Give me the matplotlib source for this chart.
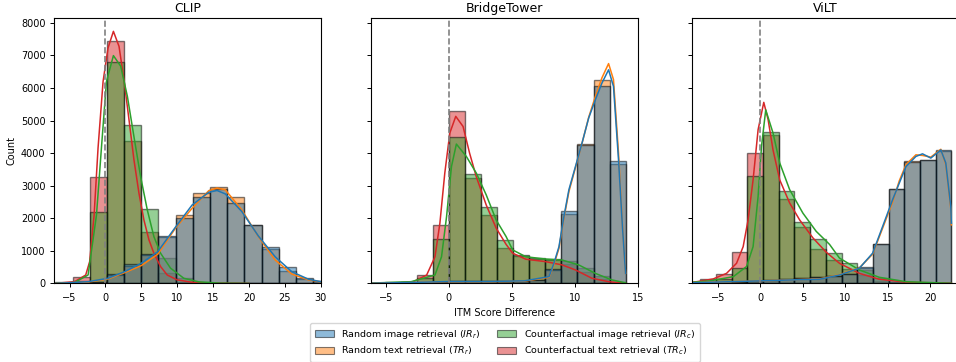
import numpy as np
import matplotlib
matplotlib.use("Agg")
import matplotlib.pyplot as plt
from matplotlib.patches import Patch

# ---- data ----
series_labels = ["Random image retrieval ($IR_r$)", "Random text retrieval ($TR_r$)",
                 "Counterfactual image retrieval ($IR_c$)", "Counterfactual text retrieval ($TR_c$)"]
series_colors = ["#1f77b4", "#ff7f0e", "#2ca02c", "#d62728"]
panel_titles = ["CLIP", "BridgeTower", "ViLT"]

# CLIP histogram (common bin edges for all four series)
clip_edges = [0.2 + 2.395 * k for k in range(-3, 14)]
clip_ir_r = [5, 25, 60, 280, 590, 905, 1470, 2025, 2660, 2900, 2475, 1810, 1130, 505, 165, 75]
clip_tr_r = [5, 20, 50, 250, 550, 870, 1440, 2105, 2775, 2950, 2640, 1810, 1050, 395, 150, 70]
clip_ir_c = [30, 90, 2190, 6790, 4850, 2280, 775, 170, 60, 20, 5, 0, 0, 0, 0, 0]
clip_tr_c = [40, 200, 3265, 7435, 4360, 1590, 330, 40, 10, 0, 0, 0, 0, 0, 0, 0]

# CLIP density curves (count scale)
clip_kde_x_r = [-7.0, -5.65, -2.4, 0.36, 2.64, 5.0, 7.3, 9.76, 12.08, 14.4, 15.55, 16.7, 19.0, 21.3, 23.65, 25.97, 28.3, 30.0, 31.3]
clip_kde_ir_r = [5, 15, 55, 160, 360, 620, 980, 1730, 2410, 2800, 2855, 2750, 2210, 1460, 820, 360, 130, 55, 30]
clip_kde_tr_r = [5, 12, 45, 140, 330, 550, 900, 1700, 2310, 2850, 2930, 2875, 2260, 1440, 720, 290, 110, 50, 25]
clip_kde_x_ir_c = [-7.0, -4.3, -2.42, -1.25, -0.56, 0.14, 1.11, 2.13, 3.06, 3.97, 4.9, 5.83, 6.75, 7.68, 9.07, 10.92, 13.0, 16.0, 20.0]
clip_kde_ir_c = [5, 30, 260, 2100, 4160, 6200, 6995, 6670, 5740, 4510, 3280, 2260, 1440, 930, 470, 160, 50, 10, 0]
clip_kde_x_tr_c = [-7.0, -4.3, -2.75, -2.2, -1.58, -1.03, -0.33, 0.36, 1.11, 1.89, 2.58, 3.28, 3.97, 4.67, 5.36, 6.06, 6.75, 7.68, 8.61, 10.0, 12.0, 15.0, 20.0]
clip_kde_tr_c = [5, 55, 260, 670, 2100, 4160, 6200, 7230, 7740, 7280, 6260, 5030, 3800, 2770, 1950, 1340, 930, 520, 260, 110, 40, 10, 0]

# BridgeTower histogram
bt_edges = [0.02 + 1.275 * k for k in range(-5, 12)]
bt_ir_r = [5, 10, 15, 25, 45, 70, 80, 75, 70, 80, 110, 450, 2240, 4260, 6070, 3765]
bt_tr_r = [5, 10, 15, 25, 40, 65, 75, 70, 65, 75, 100, 420, 2140, 4280, 6240, 3665]
bt_ir_c = [15, 30, 50, 160, 1360, 4495, 3370, 2360, 1340, 860, 790, 760, 690, 470, 240, 60]
bt_tr_c = [20, 35, 60, 255, 1780, 5305, 3235, 2105, 1080, 840, 760, 720, 600, 350, 150, 20]

bt_kde_x_r = [-6.35, -2.0, 0.0, 3.0, 6.0, 7.96, 8.35, 8.75, 9.14, 9.54, 10.06, 10.58, 11.11, 11.64, 12.16, 12.69, 13.08, 13.48, 13.79, 14.04]
bt_kde_ir_r = [5, 40, 60, 60, 80, 210, 620, 1130, 2050, 2880, 3590, 4310, 5080, 5640, 6150, 6560, 6050, 3800, 1750, 310]
bt_kde_tr_r = [5, 35, 55, 55, 70, 190, 580, 1080, 2000, 2820, 3560, 4300, 5100, 5740, 6310, 6750, 6260, 4000, 1800, 310]
bt_kde_x_ir_c = [-6.35, -3.0, -1.1, -0.58, -0.18, 0.21, 0.6, 1.39, 2.18, 2.97, 3.76, 4.55, 5.07, 6.12, 7.7, 9.0, 10.32, 11.64, 12.95, 14.04]
bt_kde_ir_c = [10, 55, 260, 820, 2050, 3590, 4280, 3900, 3390, 2720, 1950, 1440, 1030, 820, 750, 720, 570, 310, 110, 20]
bt_kde_x_tr_c = [-6.35, -4.0, -2.81, -1.76, -1.1, -0.71, -0.32, 0.08, 0.55, 1.13, 1.65, 2.18, 2.97, 3.76, 4.55, 5.07, 6.12, 7.7, 9.0, 10.06, 11.37, 12.69, 14.04]
bt_kde_tr_c = [5, 20, 55, 260, 820, 1850, 3390, 4620, 5130, 4820, 4000, 3280, 2410, 1700, 1200, 930, 745, 670, 570, 415, 160, 55, 10]

# ViLT histogram
vilt_edges = [0.31 + 1.849 * k for k in range(-5, 13)]
vilt_ir_r = [5, 15, 30, 50, 80, 110, 140, 165, 195, 240, 300, 500, 1215, 2895, 3740, 3790, 4085]
vilt_tr_r = [5, 15, 30, 50, 80, 110, 140, 170, 200, 245, 305, 490, 1200, 2890, 3775, 3800, 4075]
vilt_ir_c = [15, 60, 140, 490, 3285, 4640, 2825, 1900, 1360, 930, 640, 410, 160, 60, 25, 10, 5]
vilt_tr_c = [25, 125, 290, 980, 4020, 4565, 2590, 1745, 1050, 720, 440, 250, 90, 40, 15, 5, 5]

vilt_kde_x_r = [-8.9, -5.0, 0.0, 5.0, 6.96, 9.31, 11.66, 13.22, 14.4, 15.57, 16.36, 17.15, 18.32, 19.1, 20.08, 21.26, 21.84, 22.43, 22.5]
vilt_kde_ir_r = [15, 45, 80, 120, 130, 260, 470, 930, 1750, 2570, 3080, 3590, 3900, 3980, 3850, 4100, 3700, 2360, 1850]
vilt_kde_tr_r = [15, 45, 80, 125, 140, 270, 480, 900, 1700, 2500, 3150, 3650, 3950, 3930, 3880, 4120, 3650, 2300, 1800]
vilt_kde_x_ir_c = [-8.9, -5.95, -3.2, -1.64, -0.87, -0.28, 0.12, 0.62, 1.48, 2.27, 3.44, 5.0, 6.57, 8.14, 9.31, 11.66, 14.0, 17.15, 22.5]
vilt_kde_ir_c = [20, 80, 210, 520, 1130, 2670, 4200, 5330, 4620, 3700, 2880, 2160, 1600, 1200, 780, 415, 190, 55, 5]
vilt_kde_x_tr_c = [-8.9, -7.5, -5.57, -4.0, -2.82, -2.04, -1.46, -0.87, -0.28, 0.39, 0.9, 1.48, 2.27, 3.44, 4.62, 6.18, 7.75, 9.31, 11.66, 14.0, 17.15, 22.5]
vilt_kde_tr_c = [20, 55, 140, 310, 620, 1130, 1950, 3180, 4720, 5560, 5030, 4100, 3180, 2470, 1950, 1400, 960, 620, 310, 130, 40, 5]

panels = [
    (clip_edges, [clip_ir_r, clip_tr_r, clip_ir_c, clip_tr_c],
     [(clip_kde_x_r, clip_kde_ir_r), (clip_kde_x_r, clip_kde_tr_r),
      (clip_kde_x_ir_c, clip_kde_ir_c), (clip_kde_x_tr_c, clip_kde_tr_c)],
     (-7.1, 30.0), [-5, 0, 5, 10, 15, 20, 25, 30]),
    (bt_edges, [bt_ir_r, bt_tr_r, bt_ir_c, bt_tr_c],
     [(bt_kde_x_r, bt_kde_ir_r), (bt_kde_x_r, bt_kde_tr_r),
      (bt_kde_x_ir_c, bt_kde_ir_c), (bt_kde_x_tr_c, bt_kde_tr_c)],
     (-6.15, 15.0), [-5, 0, 5, 10, 15]),
    (vilt_edges, [vilt_ir_r, vilt_tr_r, vilt_ir_c, vilt_tr_c],
     [(vilt_kde_x_r, vilt_kde_ir_r), (vilt_kde_x_r, vilt_kde_tr_r),
      (vilt_kde_x_ir_c, vilt_kde_ir_c), (vilt_kde_x_tr_c, vilt_kde_tr_c)],
     (-8.03, 23.35), [-5, 0, 5, 10, 15, 20]),
]

fig = plt.figure(figsize=(9.56, 3.62), dpi=100)
lefts = [0.0570, 0.3885, 0.7242]
axes = [fig.add_axes([l, 0.2169, 0.2785, 0.7325]) for l in lefts]

for ax, title, (edges, counts, kdes, xlim, xticks) in zip(axes, panel_titles, panels):
    edges = np.asarray(edges)
    widths = np.diff(edges)
    # seaborn-style layering: last hue level first, first level on top
    for i in reversed(range(4)):
        ax.bar(edges[:-1], counts[i], width=widths, align="edge",
               color=series_colors[i], alpha=0.5, edgecolor="black", linewidth=1.0)
    for i in reversed(range(4)):
        kx, ky = kdes[i]
        ax.plot(kx, ky, color=series_colors[i], lw=1.1)
    ax.axvline(0, color="gray", ls="--", lw=1.2)
    ax.set_xlim(*xlim)
    ax.set_ylim(0, 8140)
    ax.set_xticks(xticks)
    ax.set_yticks(range(0, 8001, 1000))
    ax.set_title(title, fontsize=9, pad=4.5)
    ax.tick_params(labelsize=7, length=3, width=0.7)
    for s in ax.spines.values():
        s.set_linewidth(0.8)

axes[0].set_ylabel("Count", fontsize=7, labelpad=3)
for ax in axes[1:]:
    ax.tick_params(labelleft=False)
axes[1].set_xlabel("ITM Score Difference", fontsize=7, labelpad=4)

handles = [Patch(facecolor=c, alpha=0.5, edgecolor="black", linewidth=0.8) for c in series_colors]
fig.legend(handles, series_labels, loc="upper center", bbox_to_anchor=(0.528, 0.121),
           ncol=2, fontsize=6.8, frameon=True, columnspacing=1.8, handlelength=2.0,
           labelspacing=0.45, borderpad=0.5)

fig.savefig("out.png", dpi=100)
